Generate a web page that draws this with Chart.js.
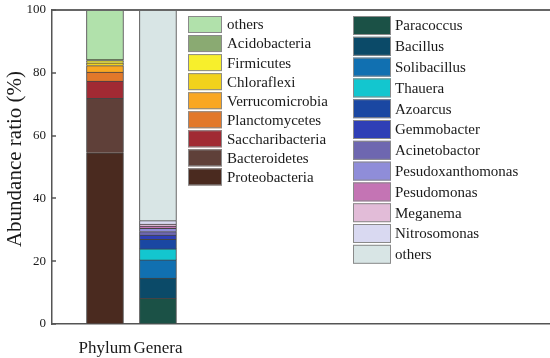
<!DOCTYPE html>
<html lang="en">
<head>
  <meta charset="UTF-8">
  <title>Abundance ratio</title>
  <script src="https://cdn.jsdelivr.net/npm/chart.js"></script>
  <style>
    body { margin: 0; background: #fff; }
    #wrap { width: 550px; height: 358px; }
  </style>
</head>
<body>
  <div id="wrap"><canvas id="chart" width="550" height="358"></canvas></div>

  <script>
    // data (percent)
    const categories = ['Phylum', 'Genera'];
    const phylumNames = ['Proteobacteria', 'Bacteroidetes', 'Saccharibacteria', 'Planctomycetes',
      'Verrucomicrobia', 'Chloraflexi', 'Firmicutes', 'Acidobacteria', 'others'];
    const phylumValues = [54.5, 17.4, 5.5, 2.8, 2.1, 0.9, 0.7, 0.4, 15.7];
    const generaNames = ['Paracoccus', 'Bacillus', 'Solibacillus', 'Thauera', 'Azoarcus', 'Gemmobacter',
      'Acinetobactor', 'Pesudoxanthomonas', 'Pesudomonas', 'Meganema', 'Nitrosomonas', 'others'];
    const generaValues = [8.2, 6.4, 5.8, 3.5, 3.1, 1.3, 1.1, 1.1, 0.7, 0.6, 1.1, 67.1];
    const yTicks = [0, 20, 40, 60, 80, 100];
    const yTitle = 'Abundance ratio (%)';

    const phylumColors = ['#4a2a1f', '#5f4039', '#a12a33', '#e2782a', '#f9a722', '#f1d21c',
      '#f7ef2c', '#8aaa72', '#b1e1ab'];
    const generaColors = ['#1b5146', '#0b4a68', '#1170b1', '#13c6cf', '#1a47a2', '#2f3fb6',
      '#6e67b0', '#8f8dd9', '#c474b4', '#e2bcd8', '#d9d9f1', '#d8e5e5'];

    const serif = '"Liberation Serif", "Times New Roman", serif';
    const axisGray = '#555';
    const textColor = '#1a1a1a';

    const datasets = [];
    phylumNames.forEach((n, i) => datasets.push({
      label: n, data: [{ x: 1, y: phylumValues[i] }],
      backgroundColor: phylumColors[i], group: 0
    }));
    generaNames.forEach((n, i) => datasets.push({
      label: n, data: [{ x: 2, y: generaValues[i] }],
      backgroundColor: generaColors[i], group: 1
    }));

    // frame line on top, inward y ticks, y title and the two-column legend
    const decorPlugin = {
      id: 'decor',
      afterDraw(chart) {
        const ctx = chart.ctx;
        const a = chart.chartArea;
        const ys = chart.scales.y;
        ctx.save();
        ctx.strokeStyle = '#666';
        ctx.lineWidth = 2;
        ctx.beginPath();
        ctx.moveTo(a.left, a.top);
        ctx.lineTo(a.right, a.top);
        ctx.stroke();

        ctx.strokeStyle = axisGray;
        ctx.lineWidth = 1.5;
        ctx.beginPath();
        yTicks.forEach(v => {
          const py = Math.round(ys.getPixelForValue(v));
          ctx.moveTo(a.left, py);
          ctx.lineTo(a.left + 4, py);
        });
        ctx.stroke();

        ctx.fillStyle = textColor;
        ctx.font = '21px ' + serif;
        ctx.textAlign = 'center';
        ctx.textBaseline = 'middle';
        ctx.translate(15, 159);
        ctx.rotate(-Math.PI / 2);
        ctx.fillText(yTitle, 0, 0);
        ctx.setTransform(1, 0, 0, 1, 0, 0);

        ctx.font = '15px ' + serif;
        ctx.textAlign = 'left';
        const ds = chart.data.datasets;
        const left = ds.filter(d => d.group === 0).slice().reverse();
        const right = ds.filter(d => d.group === 1);
        const cols = [
          { items: left, x: 188, y: 16, w: 34, h: 17, step: 19.05, tx: 227 },
          { items: right, x: 353, y: 16, w: 38, h: 19, step: 20.8, tx: 395 }
        ];
        cols.forEach(c => {
          c.items.forEach((d, i) => {
            const y = c.y + i * c.step;
            ctx.fillStyle = d.backgroundColor;
            ctx.fillRect(c.x, y, c.w, c.h);
            ctx.strokeStyle = '#8a8a8a';
            ctx.lineWidth = 1;
            ctx.strokeRect(c.x + 0.5, y + 0.5, c.w - 1, c.h - 1);
            ctx.fillStyle = textColor;
            ctx.fillText(d.label, c.tx, y + c.h / 2 + 1);
          });
        });
        ctx.restore();
      }
    };

    new Chart(document.getElementById('chart'), {
      type: 'bar',
      data: { datasets },
      options: {
        responsive: false,
        animation: false,
        layout: { padding: { top: 10, right: 0, left: 0, bottom: 0 } },
        datasets: { bar: { barThickness: 37, borderWidth: 1, borderColor: '#444' } },
        plugins: { legend: { display: false }, tooltip: { enabled: false } },
        scales: {
          x: {
            type: 'linear',
            stacked: true,
            offset: false,
            min: 0,
            max: 9.4,
            afterBuildTicks: s => { s.ticks = categories.map((c, i) => ({ value: i + 1 })); },
            afterFit: s => { s.height = 34; },
            grid: { display: false },
            border: { display: true, color: axisGray, width: 1.5 },
            ticks: {
              padding: 6,
              maxRotation: 0,
              minRotation: 0,
              autoSkip: false,
              color: textColor,
              font: { family: serif, size: 17 },
              callback: v => categories[v - 1]
            }
          },
          y: {
            stacked: true,
            min: 0,
            max: 100,
            afterBuildTicks: s => { s.ticks = yTicks.map(v => ({ value: v })); },
            afterFit: s => { s.width = 52; },
            grid: { drawOnChartArea: false, drawTicks: true, tickLength: 4, color: 'transparent' },
            border: { color: axisGray, width: 1.5 },
            ticks: { padding: 2, color: textColor, font: { family: serif, size: 13 } }
          }
        }
      },
      plugins: [decorPlugin]
    });
  </script>
</body>
</html>
